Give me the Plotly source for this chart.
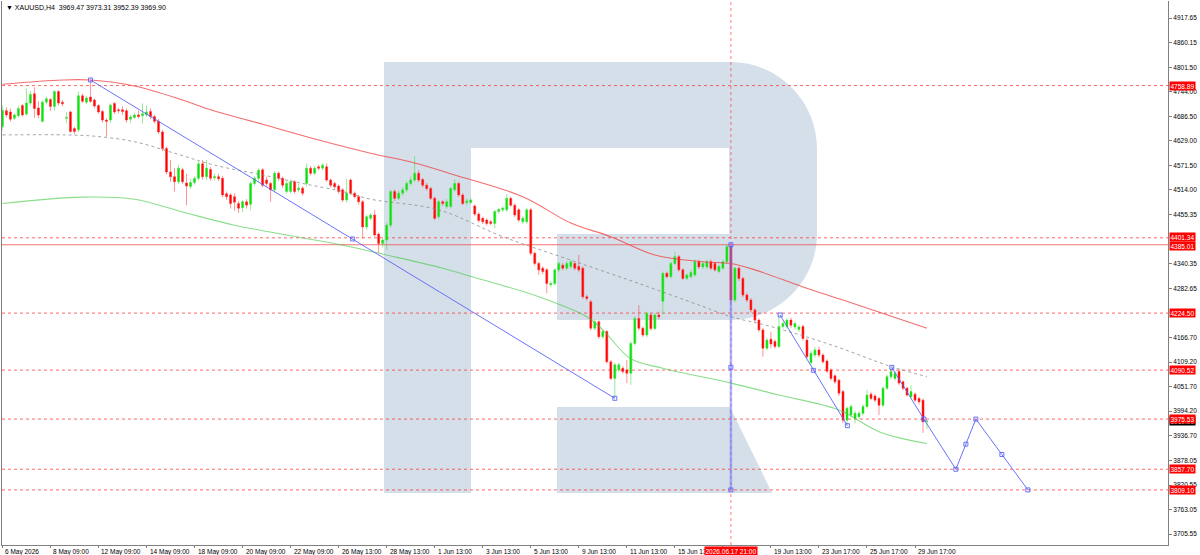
import plotly.graph_objects as go

# XAUUSD H4 candles, one entry per bar (bar index = position in list)
opens = [
    4662, 4700, 4697, 4682, 4688, 4712, 4692, 4718, 4740, 4706,
    4675, 4720, 4726, 4710, 4745, 4720, 4682, 4697, 4658, 4655,
    4735, 4720, 4732, 4725, 4712, 4698, 4678, 4678, 4717, 4702,
    4702, 4700, 4680, 4684, 4690, 4688, 4690, 4698, 4686, 4675,
    4650, 4611, 4556, 4545, 4533, 4561, 4530, 4522, 4531, 4541,
    4575, 4545, 4562, 4542, 4545, 4541, 4505, 4502, 4498, 4482,
    4472, 4486, 4480, 4529, 4541, 4561, 4537, 4529, 4514, 4553,
    4541, 4510, 4510, 4533, 4514, 4518, 4529, 4565, 4553, 4568,
    4565, 4568, 4537, 4529, 4523, 4514, 4490, 4537, 4506, 4498,
    4486, 4427, 4447, 4455, 4410, 4388, 4396, 4431, 4510, 4494,
    4506, 4514, 4529, 4537, 4553, 4538, 4525, 4517, 4494, 4451,
    4486, 4475, 4475, 4514, 4529, 4502, 4484, 4484, 4476, 4457,
    4447, 4443, 4439, 4435, 4463, 4467, 4467, 4494, 4478, 4467,
    4439, 4439, 4467, 4365, 4341, 4330, 4326, 4291, 4294, 4326,
    4337, 4330, 4334, 4341, 4334, 4330, 4263, 4251, 4189, 4204,
    4169, 4181, 4110, 4071, 4091, 4095, 4091, 4083, 4153, 4212,
    4189, 4173, 4220, 4188, 4220, 4252, 4318, 4310, 4341, 4357,
    4326, 4306, 4310, 4314, 4345, 4333, 4333, 4345, 4341, 4322,
    4330, 4345, 4381, 4255, 4330, 4306, 4267, 4255, 4232, 4208,
    4185, 4142, 4163, 4158, 4146, 4193, 4193, 4208, 4192, 4186,
    4193, 4161, 4108, 4126, 4138, 4126, 4112, 4091, 4077, 4067,
    4040, 3973, 3985, 3977, 3981, 3989, 4005, 4034, 4030, 4024,
    4008, 4048, 4075, 4071, 4087, 4063, 4048, 4028, 4034, 4024,
    4020, 3969.47,
]
highs = [
    4712, 4708, 4705, 4694, 4712, 4716, 4752, 4746, 4755, 4722,
    4724, 4733, 4730, 4748, 4748, 4725, 4697, 4700, 4662, 4745,
    4740, 4735, 4772, 4728, 4715, 4702, 4682, 4717, 4720, 4706,
    4710, 4705, 4690, 4695, 4700, 4717, 4712, 4705, 4690, 4680,
    4655, 4615, 4584, 4565, 4572, 4566, 4552, 4540, 4546, 4580,
    4584, 4584, 4568, 4552, 4552, 4546, 4510, 4506, 4506, 4488,
    4490, 4492, 4533, 4546, 4565, 4565, 4545, 4533, 4558, 4557,
    4545, 4534, 4538, 4537, 4528, 4522, 4576, 4570, 4570, 4573,
    4577, 4576, 4541, 4533, 4527, 4518, 4540, 4541, 4510, 4502,
    4490, 4456, 4460, 4467, 4414, 4400, 4436, 4514, 4515, 4512,
    4520, 4534, 4545, 4593, 4560, 4542, 4530, 4521, 4498, 4490,
    4490, 4492, 4521, 4539, 4533, 4506, 4494, 4495, 4480, 4461,
    4451, 4447, 4443, 4467, 4472, 4475, 4504, 4498, 4482, 4471,
    4452, 4472, 4472, 4369, 4345, 4334, 4330, 4300, 4330, 4346,
    4342, 4346, 4350, 4346, 4361, 4334, 4268, 4256, 4210, 4208,
    4186, 4185, 4114, 4108, 4108, 4100, 4114, 4158, 4217, 4243,
    4193, 4228, 4225, 4225, 4228, 4322, 4322, 4345, 4369, 4361,
    4330, 4318, 4326, 4350, 4350, 4346, 4350, 4350, 4345, 4338,
    4350, 4385, 4385, 4334, 4334, 4310, 4272, 4260, 4236, 4212,
    4190, 4166, 4181, 4162, 4220, 4205, 4212, 4214, 4205, 4196,
    4197, 4165, 4136, 4145, 4146, 4130, 4116, 4095, 4080, 4070,
    4044, 4005, 4010, 3995, 3995, 4010, 4044, 4040, 4034, 4028,
    4052, 4080, 4098, 4088, 4092, 4066, 4052, 4055, 4038, 4028,
    4024, 3973.31,
]
lows = [
    4655, 4684, 4674, 4678, 4684, 4686, 4688, 4712, 4683, 4682,
    4672, 4714, 4700, 4700, 4712, 4710, 4670, 4648, 4645, 4650,
    4718, 4715, 4718, 4706, 4693, 4672, 4639, 4672, 4692, 4695,
    4690, 4672, 4672, 4680, 4682, 4670, 4685, 4680, 4670, 4645,
    4605, 4550, 4533, 4510, 4528, 4528, 4478, 4516, 4526, 4536,
    4538, 4537, 4535, 4536, 4535, 4497, 4490, 4470, 4465, 4460,
    4462, 4470, 4466, 4523, 4535, 4520, 4522, 4486, 4508, 4535,
    4518, 4505, 4506, 4505, 4508, 4500, 4522, 4548, 4549, 4560,
    4560, 4533, 4520, 4516, 4505, 4485, 4484, 4502, 4494, 4480,
    4400, 4420, 4442, 4404, 4365, 4378, 4373, 4426, 4488, 4490,
    4500, 4508, 4524, 4532, 4532, 4520, 4512, 4490, 4443, 4445,
    4476, 4470, 4470, 4510, 4498, 4478, 4478, 4480, 4452, 4437,
    4434, 4430, 4431, 4424, 4458, 4462, 4462, 4474, 4450, 4438,
    4434, 4434, 4360, 4336, 4314, 4316, 4271, 4285, 4288, 4320,
    4325, 4325, 4328, 4325, 4320, 4258, 4254, 4184, 4184, 4164,
    4164, 4106, 4067, 4024, 4086, 4082, 4060, 4056, 4148, 4184,
    4168, 4168, 4183, 4184, 4210, 4222, 4306, 4306, 4337, 4322,
    4302, 4302, 4306, 4310, 4328, 4328, 4328, 4325, 4322, 4318,
    4326, 4340, 4250, 4250, 4300, 4262, 4250, 4226, 4203, 4180,
    4122, 4137, 4142, 4141, 4142, 4188, 4188, 4190, 4186, 4180,
    4160, 4117, 4102, 4120, 4120, 4106, 4084, 4066, 4058, 4030,
    3966, 3965, 3980, 3965, 3975, 3984, 4000, 4020, 4015, 3985,
    4004, 4044, 4070, 4066, 4055, 4043, 4028, 4024, 4016, 4010,
    3943, 3952.39,
]
closes = [
    4701, 4690, 4680, 4690, 4705, 4690, 4718, 4738, 4705, 4690,
    4720, 4728, 4710, 4745, 4718, 4716, 4684, 4651, 4651, 4735,
    4722, 4730, 4722, 4711, 4697, 4678, 4675, 4713, 4697, 4700,
    4698, 4678, 4685, 4690, 4686, 4693, 4697, 4686, 4675, 4650,
    4611, 4556, 4545, 4533, 4565, 4533, 4523, 4531, 4541, 4575,
    4545, 4565, 4541, 4545, 4540, 4502, 4498, 4482, 4485, 4471,
    4486, 4478, 4529, 4541, 4560, 4525, 4529, 4514, 4553, 4541,
    4525, 4529, 4533, 4510, 4518, 4506, 4565, 4553, 4565, 4565,
    4572, 4537, 4525, 4521, 4510, 4490, 4506, 4506, 4498, 4486,
    4427, 4451, 4455, 4408, 4388, 4396, 4431, 4510, 4494, 4506,
    4514, 4529, 4537, 4553, 4537, 4525, 4517, 4494, 4447, 4486,
    4482, 4486, 4517, 4529, 4502, 4482, 4488, 4490, 4457, 4442,
    4439, 4435, 4435, 4463, 4468, 4471, 4494, 4478, 4455, 4443,
    4447, 4467, 4365, 4341, 4326, 4322, 4294, 4294, 4326, 4341,
    4330, 4341, 4345, 4330, 4326, 4263, 4259, 4189, 4204, 4169,
    4181, 4110, 4071, 4103, 4103, 4087, 4083, 4153, 4212, 4189,
    4173, 4224, 4188, 4220, 4216, 4318, 4310, 4341, 4357, 4326,
    4306, 4314, 4320, 4345, 4333, 4341, 4345, 4330, 4326, 4334,
    4345, 4381, 4255, 4330, 4306, 4267, 4255, 4232, 4208, 4185,
    4142, 4161, 4152, 4146, 4193, 4200, 4208, 4196, 4200, 4192,
    4165, 4122, 4130, 4138, 4126, 4110, 4088, 4071, 4063, 4036,
    3973, 4001, 4005, 3989, 3989, 4005, 4032, 4024, 4020, 4008,
    4048, 4075, 4087, 4083, 4060, 4048, 4032, 4040, 4020, 4016,
    3969, 3969.90,
]

# moving averages, read at a few bars
red_ma_bars = [0, 15, 22, 33, 45, 52, 65, 79, 92, 103, 113, 130, 142, 152, 163, 175, 182, 188, 200, 210, 231]
red_ma_vals = [4762, 4772, 4772, 4758, 4725, 4702, 4668, 4631, 4600, 4577, 4549, 4498, 4436, 4404, 4361, 4345, 4341, 4326, 4286, 4255, 4189]

gray_ma_bars = [0, 16, 23, 33, 43, 53, 65, 75, 85, 92, 109, 125, 142, 159, 175, 182, 192, 207, 222, 231]
gray_ma_vals = [4643, 4643, 4640, 4627, 4600, 4572, 4549, 4529, 4510, 4492, 4467, 4404, 4349, 4294, 4240, 4216, 4193, 4150, 4099, 4075]

green_ma_bars = [0, 20, 33, 45, 58, 85, 96, 110, 118, 134, 146, 150, 157, 165, 182, 194, 209, 219, 231]
green_ma_vals = [4482, 4497, 4492, 4462, 4431, 4384, 4361, 4330, 4308, 4263, 4216, 4185, 4117, 4095, 4060, 4032, 3997, 3946, 3918]

# drawn levels
dotted_levels = [4758.89, 4401.34, 4224.50, 4090.52, 3975.53, 3857.70, 3809.10]
solid_level = 4385.01
current_price = 3969.90
crosshair_bar = 182
crosshair_label = "2026.06.17 21:00"

# blue analysis lines (bar, price)
trend_a_bars = [22, 87.5, 153]
trend_a_vals = [4772.0, 4398.5, 4024.3]
trend_b_bars = [182, 182, 182]
trend_b_vals = [4385.01, 4097.06, 3809.10]
trend_c_bars = [194.3, 202.6, 211.1]
trend_c_vals = [4220.0, 4090.0, 3960.0]
forecast_bars = [222.2, 230.2, 238.2, 240.7, 243.2, 249.7, 256.2]
forecast_vals = [4097.0, 3975.53, 3857.70, 3916.6, 3975.53, 3892.3, 3809.10]

tick_bars = list(range(0, 229, 12))
# the 17 Jun label sits under the crosshair date box, so it is left empty
tick_labels = [
    "6 May 2026", "8 May 09:00", "12 May 09:00", "14 May 09:00", "18 May 09:00",
    "20 May 09:00", "22 May 09:00", "26 May 13:00", "28 May 13:00", "1 Jun 13:00",
    "3 Jun 13:00", "5 Jun 13:00", "9 Jun 13:00", "11 Jun 13:00", "15 Jun 13:00",
    "", "19 Jun 13:00", "23 Jun 17:00", "25 Jun 17:00", "29 Jun 17:00",
]
price_ticks = [4917.65, 4860.15, 4801.50, 4744.00, 4686.50, 4629.00, 4571.50, 4514.00,
               4455.35, 4340.35, 4282.65, 4166.70, 4109.20, 4051.70,
               3994.20, 3936.70, 3878.05, 3820.55, 3763.05, 3705.55]

header = "\u25BC XAUUSD,H4  3969.47 3973.31 3952.39 3969.90"

FONT = "Liberation Sans"
W, H = 1200, 555
M_L, M_R, M_T, M_B = 2, 32, 1, 10


def px(x, y):
    """pixel position inside the figure -> paper coords"""
    pw = W - M_L - M_R
    ph = H - M_T - M_B
    return (x - M_L) / pw, 1 - (y - M_T) / ph


def logo_path() -> str:
    cmds = [
        ("M", (384, 62)), ("L", (731, 62)),
        ("C", (778, 62), (817, 101), (817, 148)),
        ("L", (817, 234)),
        ("C", (817, 281), (778, 320), (731, 320)),
        ("L", (557, 320)), ("L", (557, 234)), ("L", (729, 234)),
        ("L", (729, 148)), ("L", (471, 148)), ("L", (471, 493)),
        ("L", (384, 493)), ("Z",),
        ("M", (557, 407)), ("L", (730, 407)), ("L", (772, 493)),
        ("L", (557, 493)), ("Z",),
    ]
    out = []
    for cmd in cmds:
        if cmd[0] == "Z":
            out.append("Z")
            continue
        coords = []
        for p in cmd[1:]:
            a, b = px(*p)
            coords.append(f"{a:.5f},{b:.5f}")
        out.append(cmd[0] + " " + " ".join(coords))
    return " ".join(out)


def build_figure() -> go.Figure:
    bars = list(range(len(opens)))
    fig = go.Figure()

    fig.add_trace(go.Scatter(x=red_ma_bars, y=red_ma_vals, mode="lines",
                             line=dict(color="rgba(240,60,60,0.75)", width=1.1, shape="spline"),
                             hoverinfo="skip"))
    fig.add_trace(go.Scatter(x=gray_ma_bars, y=gray_ma_vals, mode="lines",
                             line=dict(color="rgba(140,140,140,0.8)", width=1, dash="dot", shape="spline"),
                             hoverinfo="skip"))
    fig.add_trace(go.Scatter(x=green_ma_bars, y=green_ma_vals, mode="lines",
                             line=dict(color="rgba(60,200,60,0.6)", width=1.1, shape="spline"),
                             hoverinfo="skip"))

    fig.add_trace(go.Candlestick(
        x=bars, open=opens, high=highs, low=lows, close=closes,
        increasing=dict(line=dict(color="rgba(60,220,60,0.55)", width=1), fillcolor="#00e600"),
        decreasing=dict(line=dict(color="rgba(255,40,40,0.5)", width=1), fillcolor="#ff0000"),
        whiskerwidth=0,
    ))

    blue = "rgba(90,100,250,0.9)"
    for xs, ys in [(trend_a_bars, trend_a_vals), (trend_c_bars, trend_c_vals),
                   (forecast_bars, forecast_vals)]:
        fig.add_trace(go.Scatter(x=xs, y=ys, mode="lines+markers",
                                 line=dict(color=blue, width=1),
                                 marker=dict(symbol="square-open", size=4, color=blue,
                                             line=dict(width=1))))
    fig.add_trace(go.Scatter(x=trend_b_bars, y=trend_b_vals, mode="lines+markers",
                             line=dict(color="rgba(110,120,255,0.55)", width=2.5),
                             marker=dict(symbol="square-open", size=4, color=blue,
                                         line=dict(width=1))))

    shapes = [dict(type="path", xref="paper", yref="paper", path=logo_path(),
                   fillcolor="rgb(213,223,234)", line=dict(width=0), layer="below")]
    for lvl in dotted_levels:
        shapes.append(dict(type="line", xref="paper", x0=0, x1=1, yref="y", y0=lvl, y1=lvl,
                           line=dict(color="rgba(255,40,40,0.7)", width=1, dash="dot"),
                           layer="below"))
    shapes.append(dict(type="line", xref="paper", x0=0, x1=1, yref="y",
                       y0=solid_level, y1=solid_level,
                       line=dict(color="rgba(240,80,80,0.8)", width=1), layer="below"))
    shapes.append(dict(type="line", xref="x", x0=crosshair_bar, x1=crosshair_bar,
                       yref="paper", y0=0, y1=1,
                       line=dict(color="rgba(255,40,40,0.6)", width=1, dash="dot"),
                       layer="below"))

    small = dict(family=FONT, size=6.5, color="black")
    ann = [dict(text=header, xref="paper", yref="paper", x=0, y=1, xanchor="left",
                yanchor="top", xshift=2, yshift=-1, showarrow=False,
                font=dict(family=FONT, size=7, color="black"))]
    # time labels, MT4 style: starting at the tick mark
    for b, lab in zip(tick_bars, tick_labels):
        if not lab:
            continue
        ann.append(dict(text=lab, xref="x", yref="paper", x=b, y=0, xanchor="left",
                        yanchor="top", xshift=1, yshift=-1, showarrow=False,
                        font=small))
    ann.append(dict(text=f"{current_price:.2f}", xref="paper", yref="y", x=1,
                    y=current_price, xanchor="left", yanchor="middle", xshift=1,
                    showarrow=False, bgcolor="black", borderpad=0.5,
                    font=dict(family=FONT, size=6.5, color="white")))
    for lvl in dotted_levels + [solid_level]:
        yshift = 0
        if lvl == 4401.34:
            yshift = 1
        if lvl == solid_level:
            yshift = -1
        ann.append(dict(text=f"{lvl:.2f}", xref="paper", yref="y", x=1, y=lvl,
                        xanchor="left", yanchor="middle", xshift=1, yshift=yshift,
                        showarrow=False, bgcolor="#ff0000", borderpad=0.5,
                        font=dict(family=FONT, size=6.5, color="white")))
    ann.append(dict(text=crosshair_label, xref="x", yref="paper", x=crosshair_bar, y=0,
                    xanchor="center", yanchor="top", yshift=-1, showarrow=False,
                    bgcolor="#ff0000", borderpad=0.5,
                    font=dict(family=FONT, size=6.5, color="white")))

    fig.update_layout(
        width=W, height=H,
        margin=dict(l=M_L, r=M_R, t=M_T, b=M_B, autoexpand=False),
        paper_bgcolor="white", plot_bgcolor="white",
        showlegend=False,
        shapes=shapes, annotations=ann,
        xaxis=dict(range=[-0.1, 291.2], rangeslider=dict(visible=False),
                   showgrid=False, zeroline=False, showline=True, linecolor="#808080",
                   tickmode="array", tickvals=tick_bars, showticklabels=False,
                   ticks="outside", ticklen=2, tickcolor="#808080"),
        yaxis=dict(range=[3679.7, 4957.6], side="right",
                   showgrid=False, zeroline=False, showline=True, mirror=True,
                   linecolor="#808080",
                   tickmode="array", tickvals=price_ticks,
                   ticktext=[f"{v:.2f}" for v in price_ticks],
                   ticks="outside", ticklen=3, tickcolor="#808080",
                   tickfont=small),
    )
    return fig


def main():
    fig = build_figure()
    # page margin off so the 1200x555 figure fills the window exactly
    fig.write_html("out.html", config={"displayModeBar": False},
                   post_script="document.body.style.margin='0px';")


if __name__ == "__main__":
    main()
